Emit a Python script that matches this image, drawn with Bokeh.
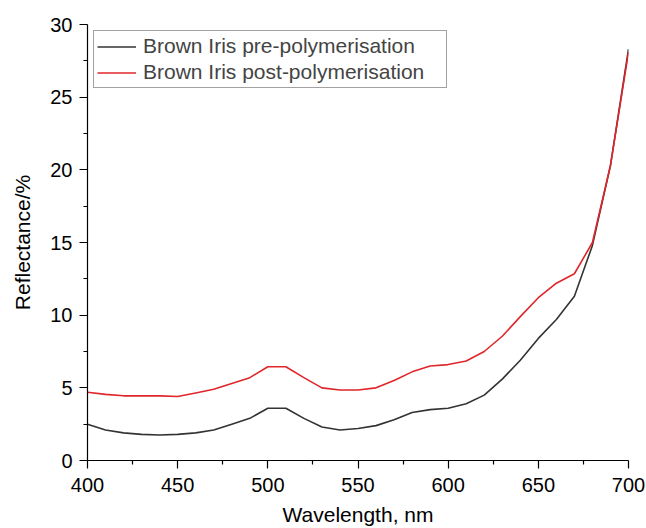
from bokeh.plotting import figure
from bokeh.models import Legend, LegendItem, FixedTicker
from bokeh.embed import file_html
from bokeh.resources import INLINE

wavelength = [400, 410, 420, 430, 440, 450, 460, 470, 480, 490, 500, 510, 520, 530, 540,
              550, 560, 570, 580, 590, 600, 610, 620, 630, 640, 650, 660, 670, 680, 690, 700]
pre_poly = [2.5, 2.1, 1.9, 1.8, 1.75, 1.8, 1.9, 2.1, 2.5, 2.9, 3.6, 3.6, 2.9, 2.3, 2.1,
            2.2, 2.4, 2.8, 3.3, 3.5, 3.6, 3.9, 4.5, 5.6, 6.9, 8.4, 9.7, 11.3, 14.8, 20.3, 28.3]
post_poly = [4.7, 4.55, 4.45, 4.45, 4.45, 4.4, 4.65, 4.9, 5.3, 5.7, 6.45, 6.45, 5.7, 5.0, 4.85,
             4.85, 5.0, 5.5, 6.1, 6.5, 6.6, 6.85, 7.5, 8.55, 9.9, 11.2, 12.2, 12.85, 15.0, 20.3, 28.1]
x_ticks = [400, 450, 500, 550, 600, 650, 700]
x_minor = [425, 475, 525, 575, 625, 675]
y_ticks = [0, 5, 10, 15, 20, 25, 30]
y_minor = [2.5, 7.5, 12.5, 17.5, 22.5, 27.5]
series_names = ["Brown Iris pre-polymerisation", "Brown Iris post-polymerisation"]

FONT = "Liberation Sans"

p = figure(width=646, height=528, x_range=(400, 700), y_range=(0, 30),
           output_backend="svg", toolbar_location=None,
           min_border_left=87, min_border_right=18, min_border_top=24, min_border_bottom=67)
p.outline_line_color = None
p.grid.visible = False
p.background_fill_color = "white"
p.border_fill_color = "white"

r1 = p.line(wavelength, pre_poly, line_color="#333333", line_width=1.6)
r2 = p.line(wavelength, post_poly, line_color="#e0262b", line_width=1.6)

for ax in (p.xaxis[0], p.yaxis[0]):
    ax.axis_line_color = "black"
    ax.axis_line_width = 1.2
    ax.major_tick_line_color = "black"
    ax.major_tick_line_width = 1.2
    ax.minor_tick_line_color = "black"
    ax.minor_tick_line_width = 1.2
    ax.major_tick_out = 8
    ax.major_tick_in = 0
    ax.minor_tick_out = 4
    ax.minor_tick_in = 0
    ax.major_label_text_font = FONT
    ax.major_label_text_font_size = "20px"
    ax.major_label_text_color = "black"
    ax.axis_label_text_font = FONT
    ax.axis_label_text_font_size = "21px"
    ax.axis_label_text_font_style = "normal"
    ax.axis_label_text_color = "black"

p.xaxis.ticker = FixedTicker(ticks=x_ticks, minor_ticks=x_minor)
p.yaxis.ticker = FixedTicker(ticks=y_ticks, minor_ticks=y_minor)
p.xaxis.axis_label = "Wavelength, nm"
p.yaxis.axis_label = "Reflectance/%"
p.xaxis.major_label_standoff = 9
p.xaxis.axis_label_standoff = 8
p.yaxis.major_label_standoff = 7
p.yaxis.axis_label_standoff = 13

legend = Legend(items=[LegendItem(label=series_names[0], renderers=[r1]),
                       LegendItem(label=series_names[1], renderers=[r2])],
                location="top_left", margin=6, padding=3, spacing=2,
                glyph_width=39, glyph_height=23, label_standoff=7, label_width=300,
                label_text_font=FONT, label_text_font_size="21px",
                border_line_color="#444444", border_line_width=1,
                background_fill_alpha=1.0)
p.add_layout(legend)

open("out.html", "w").write(file_html(p, INLINE))
